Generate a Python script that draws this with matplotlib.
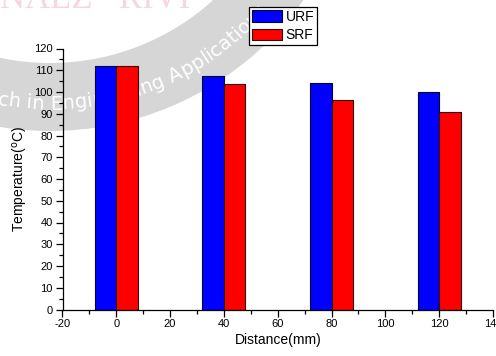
import numpy as np
import matplotlib
matplotlib.use('Agg')
import matplotlib.pyplot as plt
import matplotlib.patches as mpatches
from matplotlib.font_manager import FontProperties
from matplotlib.ticker import MultipleLocator

plt.rcParams['font.family'] = ['Liberation Sans', 'DejaVu Sans']
plt.rcParams['axes.unicode_minus'] = False

# measured temperatures at each distance along the bed
distance = [0, 40, 80, 120]
urf = [111.8, 107.2, 104.2, 99.9]
srf = [111.8, 103.7, 96.1, 90.9]
series_labels = ['URF', 'SRF']
series_colors = ['#0000ff', '#ff0000']
bar_w = 8

W, H = 496, 356
fig = plt.figure(figsize=(W / 100, H / 100), dpi=100)

# ---- journal stamp behind the chart (grey ring + lettering), in pixel units ----
bg = fig.add_axes([0, 0, 1, 1], zorder=0)
bg.set_xlim(0, W)
bg.set_ylim(0, H)
bg.axis('off')

cx, cy = 50, H + 180
r_in, r_out = 243, 311
bg.add_patch(mpatches.Wedge((cx, cy), r_out, 180, 360, width=r_out - r_in,
                            facecolor='#d6d6d6', edgecolor='none'))

stamp = 'Research in Engineering Applications'
prop = FontProperties(family='DejaVu Sans', size=14)
renderer = fig.canvas.get_renderer()


def text_w(s):
    if not s:
        return 0.0
    w, _, _ = renderer.get_text_width_height_descent(s, prop, ismath=False)
    return w


rho = 284
anchor = stamp.index('ch in')          # this letter sits at the left edge
theta_a = np.deg2rad(-99.6)
s_a = text_w(stamp[:anchor]) + text_w(stamp[anchor]) / 2
for i, ch in enumerate(stamp):
    if ch == ' ':
        continue
    s = text_w(stamp[:i]) + text_w(ch) / 2
    th = theta_a + (s - s_a) / rho
    bg.text(cx + rho * np.cos(th), cy + rho * np.sin(th), ch, color='white',
            fontproperties=prop, ha='center', va='center',
            rotation=np.rad2deg(th) + 90, rotation_mode='anchor', clip_on=False)

bg.text(0, H, 'NALZ   RIVI', color='#f7d7de', fontsize=25, family='Liberation Serif',
        ha='left', va='center', clip_on=False)

# ---- chart ----
ax = fig.add_axes([62.5 / W, (H - 309.5) / H, (493 - 62.5) / W, (309.5 - 48.5) / H], zorder=1)
ax.patch.set_alpha(0)

x = np.array(distance)
ax.bar(x - bar_w / 2, urf, width=bar_w, color=series_colors[0], edgecolor='#000033',
       linewidth=0.8, label=series_labels[0], zorder=2)
ax.bar(x + bar_w / 2, srf, width=bar_w, color=series_colors[1], edgecolor='#330000',
       linewidth=0.8, label=series_labels[1], zorder=2)

ax.set_xlim(-20, 140)
ax.set_ylim(0, 120)
ax.xaxis.set_major_locator(MultipleLocator(20))
ax.xaxis.set_minor_locator(MultipleLocator(10))
ax.yaxis.set_major_locator(MultipleLocator(10))
ax.yaxis.set_minor_locator(MultipleLocator(5))

for side in ['top', 'right']:
    ax.spines[side].set_visible(False)
for side in ['left', 'bottom']:
    ax.spines[side].set_linewidth(0.9)

ax.tick_params(which='major', direction='out', length=5, width=0.9, labelsize=8, pad=2)
ax.tick_params(which='minor', direction='out', length=3, width=0.9)

ax.set_xlabel('Distance(mm)', fontsize=10, labelpad=3)
ax.set_ylabel('Temperature($^{\\rm o}$C)', fontsize=10, labelpad=3)

leg = fig.legend(loc='upper left', bbox_to_anchor=(249 / W, 1 - 7 / H), fontsize=10,
                 frameon=True, fancybox=False, framealpha=1, edgecolor='black',
                 handlelength=2.2, handleheight=0.85, handletextpad=0.25,
                 labelspacing=0.3, borderpad=0.2, borderaxespad=0)
leg.set_zorder(3)
leg.get_frame().set_linewidth(0.9)

fig.savefig('out.png', dpi=100)
